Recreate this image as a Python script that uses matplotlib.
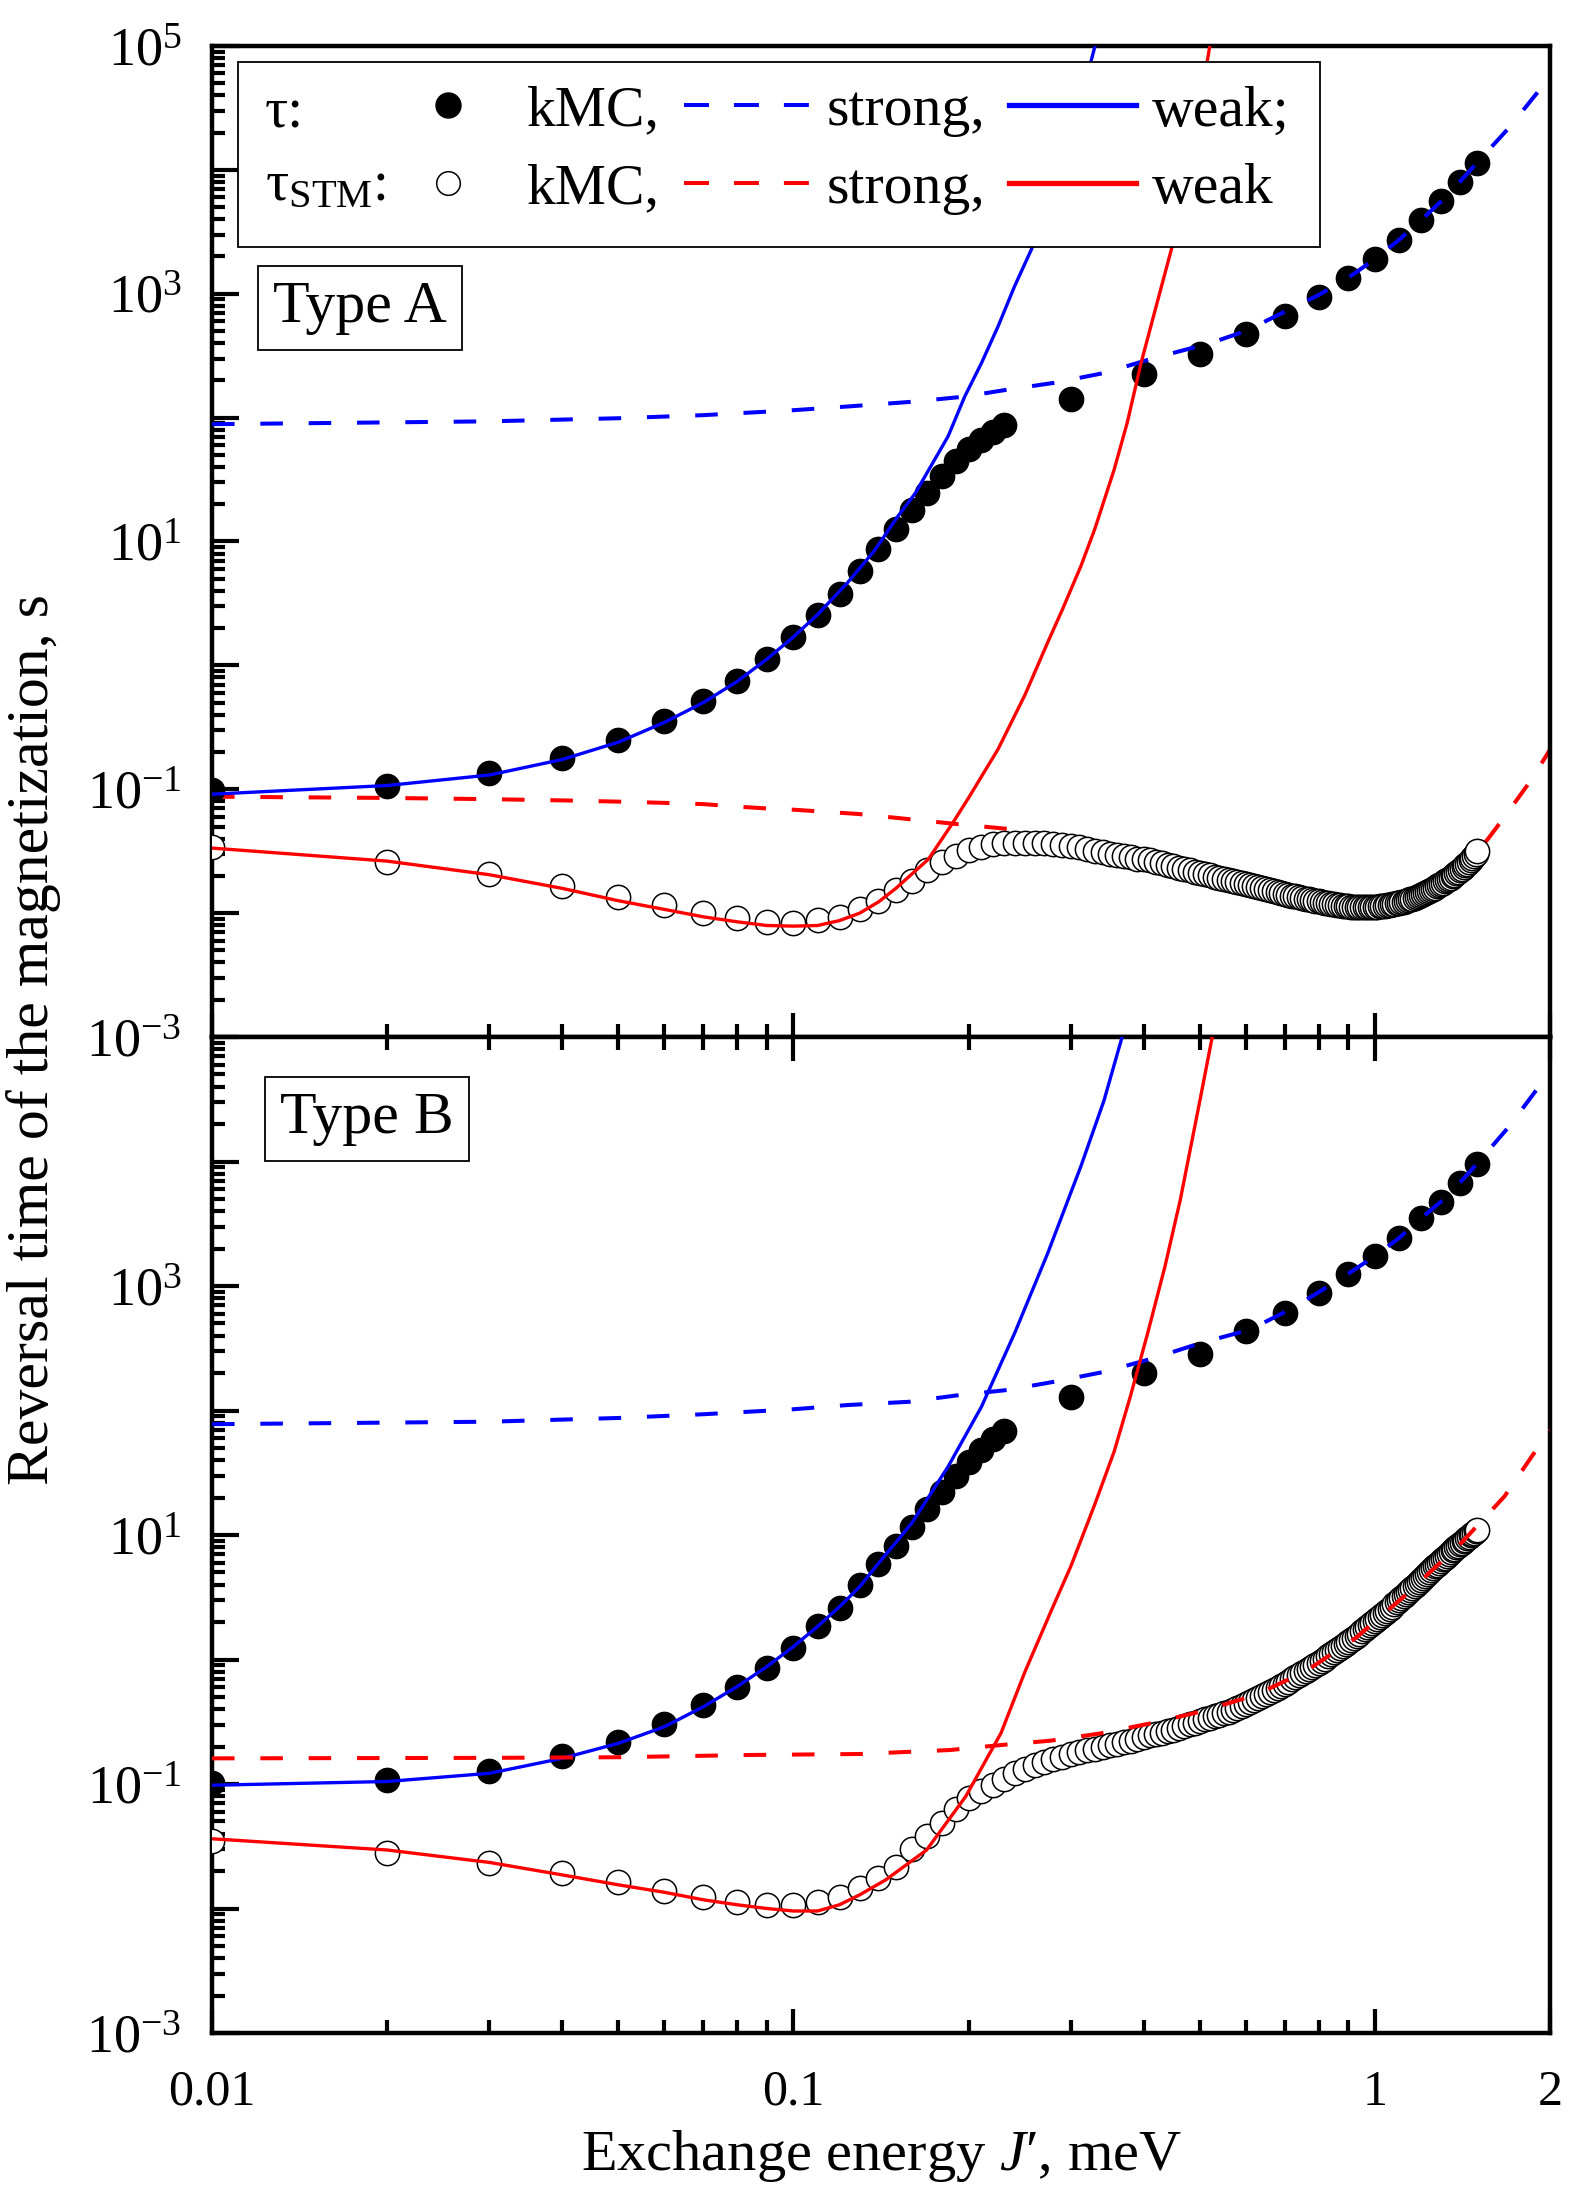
import numpy as np
import matplotlib
matplotlib.use("Agg")
import matplotlib.pyplot as plt
from matplotlib.lines import Line2D
from matplotlib.patches import Rectangle
from matplotlib.ticker import FixedLocator, FuncFormatter, LogLocator, NullFormatter

plt.rcParams['font.family'] = ['Liberation Serif', 'DejaVu Serif']
plt.rcParams['mathtext.fontset'] = 'custom'
plt.rcParams['mathtext.rm'] = 'Liberation Serif'
plt.rcParams['mathtext.it'] = 'Liberation Serif:italic'
plt.rcParams['mathtext.default'] = 'regular'

BLUE = '#0000ff'
RED = '#ff0000'

# ---- data (log10 of the reversal time) ----
# kMC tau (filled dots), same J grid for both panels
j_dots = [0.01, 0.02, 0.03, 0.04, 0.05, 0.06, 0.07, 0.08, 0.09, 0.10, 0.11, 0.12,
          0.13, 0.14, 0.15, 0.16, 0.17, 0.18, 0.19, 0.20, 0.21, 0.22, 0.23,
          0.3, 0.4, 0.5, 0.6, 0.7, 0.8, 0.9, 1.0, 1.1, 1.2, 1.3, 1.4, 1.5]
dots_a = [-1.01, -0.97, -0.87, -0.745, -0.605, -0.449, -0.288, -0.125, 0.052, 0.232,
          0.408, 0.578, 0.759, 0.94, 1.099, 1.257, 1.393, 1.528, 1.647, 1.743, 1.82,
          1.882, 1.938, 2.15, 2.35, 2.516, 2.675, 2.82, 2.977, 3.124, 3.277, 3.435,
          3.594, 3.747, 3.905, 4.052]
dots_b = [-0.99, -0.965, -0.892, -0.777, -0.665, -0.518, -0.366, -0.222, -0.069, 0.094,
          0.272, 0.413, 0.596, 0.765, 0.91, 1.062, 1.209, 1.348, 1.474, 1.584, 1.683,
          1.769, 1.838, 2.106, 2.30, 2.454, 2.641, 2.78, 2.945, 3.098, 3.238, 3.384,
          3.543, 3.677, 3.83, 3.98]

# kMC tau_STM (open circles), J = 0.01 ... 1.50 in steps of 0.01
j_circ = np.arange(1, 151) / 100.0
circ_a = [-1.47, -1.586, -1.685, -1.78, -1.866, -1.935, -1.995, -2.04, -2.07, -2.08,
          -2.055, -2.03, -1.97, -1.90, -1.815, -1.74, -1.655, -1.59, -1.54, -1.49,
          -1.465, -1.445, -1.435, -1.43, -1.43, -1.43, -1.435, -1.44, -1.45, -1.46,
          -1.47, -1.48, -1.495, -1.51, -1.52, -1.53, -1.54, -1.55, -1.56, -1.567,
          -1.575, -1.585, -1.597, -1.608, -1.62, -1.633, -1.644, -1.655, -1.665, -1.675,
          -1.685, -1.696, -1.705, -1.713, -1.722, -1.73, -1.738, -1.747, -1.756, -1.765,
          -1.774, -1.783, -1.792, -1.80, -1.808, -1.815, -1.822, -1.83, -1.837, -1.844,
          -1.851, -1.858, -1.864, -1.87, -1.876, -1.882, -1.888, -1.894, -1.90, -1.905,
          -1.91, -1.915, -1.92, -1.924, -1.928, -1.932, -1.936, -1.94, -1.943, -1.946,
          -1.948, -1.95, -1.951, -1.952, -1.953, -1.953, -1.952, -1.951, -1.95, -1.948,
          -1.947, -1.945, -1.943, -1.94, -1.937, -1.934, -1.93, -1.926, -1.922, -1.918,
          -1.913, -1.908, -1.902, -1.896, -1.89, -1.884, -1.877, -1.87, -1.862, -1.855,
          -1.847, -1.839, -1.83, -1.822, -1.813, -1.804, -1.795, -1.785, -1.775, -1.765,
          -1.755, -1.744, -1.733, -1.722, -1.715, -1.704, -1.692, -1.68, -1.668, -1.655,
          -1.642, -1.628, -1.614, -1.60, -1.585, -1.57, -1.554, -1.537, -1.52, -1.502]
circ_b = [-1.46, -1.552, -1.637, -1.712, -1.79, -1.857, -1.905, -1.945, -1.972, -1.972,
          -1.945, -1.905, -1.838, -1.757, -1.664, -1.52, -1.42, -1.31, -1.20, -1.11,
          -1.06, -1.01, -0.96, -0.915, -0.88, -0.85, -0.825, -0.80, -0.78, -0.76,
          -0.745, -0.73, -0.715, -0.70, -0.69, -0.675, -0.665, -0.655, -0.64, -0.625,
          -0.61, -0.60, -0.59, -0.575, -0.565, -0.55, -0.535, -0.52, -0.51, -0.495,
          -0.48, -0.47, -0.455, -0.443, -0.43, -0.42, -0.405, -0.39, -0.37, -0.355,
          -0.34, -0.323, -0.308, -0.29, -0.275, -0.26, -0.243, -0.227, -0.21, -0.195,
          -0.178, -0.16, -0.143, -0.126, -0.11, -0.093, -0.077, -0.06, -0.043, -0.026,
          -0.009, 0.008, 0.025, 0.041, 0.058, 0.075, 0.092, 0.109, 0.125, 0.142,
          0.159, 0.175, 0.192, 0.208, 0.225, 0.241, 0.258, 0.274, 0.29, 0.307,
          0.324, 0.34, 0.357, 0.374, 0.391, 0.408, 0.425, 0.443, 0.46, 0.477,
          0.494, 0.511, 0.528, 0.545, 0.561, 0.577, 0.593, 0.609, 0.625, 0.641,
          0.657, 0.673, 0.689, 0.705, 0.72, 0.735, 0.749, 0.763, 0.777, 0.791,
          0.805, 0.819, 0.833, 0.847, 0.862, 0.876, 0.89, 0.903, 0.915, 0.927,
          0.939, 0.951, 0.963, 0.975, 0.986, 0.997, 1.008, 1.018, 1.029, 1.04]

# tau, strong coupling (blue dashed)
j_bs_a = [0.01, 0.03, 0.05, 0.07, 0.1, 0.124, 0.162, 0.197, 0.2335, 0.28, 0.342, 0.416,
          0.52, 0.6, 0.71, 0.8, 0.9, 1.0, 1.1, 1.2, 1.3, 1.4, 1.5, 1.7, 2.0]
bs_a = [1.947, 1.97, 1.995, 2.02, 2.06, 2.09, 2.13, 2.17, 2.226, 2.28, 2.36, 2.48,
        2.60, 2.70, 2.87, 2.99, 3.13, 3.28, 3.435, 3.594, 3.747, 3.905, 4.06, 4.34, 4.75]
j_bs_b = [0.01, 0.03, 0.05, 0.07, 0.1, 0.124, 0.158, 0.19, 0.2335, 0.28, 0.342, 0.416,
          0.50, 0.61, 0.72, 0.8, 0.9, 1.0, 1.1, 1.2, 1.3, 1.4, 1.5, 1.7, 2.0]
bs_b = [1.89, 1.91, 1.94, 1.97, 2.01, 2.044, 2.07, 2.12, 2.165, 2.23, 2.31, 2.42,
        2.54, 2.65, 2.82, 2.95, 3.10, 3.24, 3.385, 3.543, 3.68, 3.83, 3.985, 4.28, 4.72]

# tau, weak coupling (blue solid)
j_bw_a = [0.01, 0.02, 0.03, 0.04, 0.05, 0.06, 0.07, 0.08, 0.09, 0.10, 0.11, 0.124,
          0.138, 0.151, 0.162, 0.1845, 0.197, 0.2105, 0.2248, 0.24, 0.2564, 0.275, 0.30,
          0.33, 0.345]
bw_a = [-1.04, -0.97, -0.885, -0.76, -0.62, -0.46, -0.30, -0.13, 0.05, 0.23, 0.41, 0.67,
        0.93, 1.20, 1.39, 1.85, 2.17, 2.44, 2.736, 3.06, 3.355, 3.72, 4.25, 5.0, 5.3]
j_bw_b = [0.01, 0.02, 0.03, 0.04, 0.05, 0.06, 0.07, 0.08, 0.09, 0.10, 0.11, 0.12, 0.13,
          0.14, 0.15, 0.16, 0.1845, 0.2105, 0.24, 0.2735, 0.312, 0.342, 0.37]
bw_b = [-1.01, -0.98, -0.914, -0.794, -0.673, -0.54, -0.379, -0.218, -0.057, 0.104,
        0.265, 0.424, 0.585, 0.773, 0.94, 1.10, 1.55, 2.03, 2.62, 3.26, 3.96, 4.49, 5.05]

# tau_STM, strong coupling (red dashed)
j_rs_a = [0.01, 0.02, 0.03, 0.04, 0.05, 0.06, 0.07, 0.08, 0.09, 0.1, 0.1295, 0.157, 0.19,
          0.2335, 0.26, 0.30, 0.35, 0.4, 0.5, 0.6, 0.7, 0.8, 0.9, 1.0, 1.1, 1.2, 1.3,
          1.4, 1.5, 1.565, 1.66, 1.86, 2.0]
rs_a = [-1.06, -1.07, -1.08, -1.09, -1.10, -1.11, -1.12, -1.14, -1.155, -1.165, -1.20,
        -1.24, -1.28, -1.32, -1.37, -1.43, -1.50, -1.56, -1.67, -1.76, -1.84, -1.905,
        -1.945, -1.948, -1.918, -1.855, -1.765, -1.655, -1.50, -1.40, -1.24, -0.92, -0.68]
j_rs_b = [0.01, 0.03, 0.05, 0.0838, 0.13, 0.186, 0.2275, 0.2767, 0.338, 0.414, 0.5, 0.619,
          0.757, 0.925, 1.131, 1.41, 1.67, 1.86, 2.0]
rs_b = [-0.794, -0.79, -0.785, -0.767, -0.759, -0.727, -0.687, -0.652, -0.593, -0.51,
        -0.42, -0.29, -0.10, 0.17, 0.52, 0.94, 1.31, 1.63, 1.84]

# tau_STM, weak coupling (red solid)
j_rw_a = [0.01, 0.02, 0.03, 0.04, 0.05, 0.06, 0.07, 0.08, 0.09, 0.10, 0.11, 0.12, 0.13,
          0.14, 0.15, 0.1706, 0.188, 0.20, 0.2248, 0.25, 0.2735, 0.29, 0.312, 0.33, 0.356,
          0.375, 0.396, 0.42, 0.449, 0.485, 0.52]
rw_a = [-1.475, -1.58, -1.69, -1.80, -1.90, -1.97, -2.03, -2.07, -2.10, -2.105, -2.10,
        -2.06, -2.00, -1.91, -1.80, -1.565, -1.27, -1.07, -0.677, -0.24, 0.183, 0.45,
        0.80, 1.105, 1.58, 1.96, 2.44, 2.89, 3.40, 4.17, 5.0]
j_rw_b = [0.01, 0.02, 0.03, 0.04, 0.05, 0.06, 0.07, 0.08, 0.09, 0.10, 0.11, 0.12, 0.13,
          0.1441, 0.1694, 0.1978, 0.2275, 0.25, 0.278, 0.30, 0.33, 0.356, 0.38, 0.4065,
          0.435, 0.4625, 0.50, 0.53]
rw_b = [-1.44, -1.53, -1.63, -1.73, -1.81, -1.87, -1.93, -1.97, -2.00, -2.02, -2.02,
        -1.97, -1.89, -1.77, -1.53, -1.10, -0.59, -0.10, 0.40, 0.75, 1.25, 1.67, 2.12,
        2.62, 3.15, 3.69, 4.49, 5.1]

x_major = [0.01, 0.1, 1, 2]
x_major_labels = ['0.01', '0.1', '1', '2']
x_minor = [0.02, 0.03, 0.04, 0.05, 0.06, 0.07, 0.08, 0.09,
           0.2, 0.3, 0.4, 0.5, 0.6, 0.7, 0.8, 0.9]


def tau(v):
    return np.power(10.0, np.asarray(v, dtype=float))


W, H = 1573, 2191
fig = plt.figure(figsize=(W / 100, H / 100), dpi=100)
left, right = 212 / W, 1550 / W
ax_a = fig.add_axes([left, 1 - 1037 / H, right - left, 991 / H])
ax_b = fig.add_axes([left, 1 - 2033 / H, right - left, 996 / H])

MS = 17.5
dash = (5.6, 6.4)


def draw_panel(ax, dots, circ, js, s_strong, jw, s_weak, jrs, r_strong, jrw, r_weak,
               red_dash_on_top):
    ax.plot(j_dots, tau(dots), 'o', ms=MS, mfc='black', mec='black', zorder=3)
    ax.plot(j_circ, tau(circ), 'o', ms=MS, mfc='white', mec='black', mew=1.1, zorder=3)
    ax.plot(js, tau(s_strong), color=BLUE, lw=2.9, dashes=dash, zorder=4)
    ax.plot(jw, tau(s_weak), color=BLUE, lw=2.4, zorder=4)
    ax.plot(jrs, tau(r_strong), color=RED, lw=2.9, dashes=dash,
            zorder=4 if red_dash_on_top else 2.5)
    ax.plot(jrw, tau(r_weak), color=RED, lw=2.4, zorder=4)


draw_panel(ax_a, dots_a, circ_a, j_bs_a, bs_a, j_bw_a, bw_a, j_rs_a, rs_a, j_rw_a, rw_a, False)
draw_panel(ax_b, dots_b, circ_b, j_bs_b, bs_b, j_bw_b, bw_b, j_rs_b, rs_b, j_rw_b, rw_b, True)


def ylab_a(v, pos):
    e = int(round(np.log10(v)))
    return r'$10^{%d}$' % e if e % 2 else ''


def ylab_b(v, pos):
    e = int(round(np.log10(v)))
    return r'$10^{%d}$' % e if (e % 2 and e < 5) else ''


for ax, fmt in ((ax_a, ylab_a), (ax_b, ylab_b)):
    ax.set_xscale('log')
    ax.set_yscale('log')
    ax.set_xlim(0.01, 2)
    ax.set_ylim(1e-3, 1e5)
    ax.yaxis.set_major_locator(LogLocator(base=10, numticks=20))
    ax.yaxis.set_minor_locator(LogLocator(base=10, subs=np.arange(2, 10), numticks=20))
    ax.yaxis.set_major_formatter(FuncFormatter(fmt))
    ax.yaxis.set_minor_formatter(NullFormatter())
    ax.xaxis.set_major_locator(FixedLocator(x_major))
    ax.xaxis.set_minor_locator(FixedLocator(x_minor))
    ax.xaxis.set_minor_formatter(NullFormatter())
    ax.tick_params(which='both', direction='in', width=3, right=False, top=False,
                   colors='black')
    ax.tick_params(axis='y', which='major', length=19.5, pad=22, labelsize=39)
    ax.tick_params(axis='y', which='minor', length=9.5)
    ax.tick_params(axis='x', which='major', length=17)
    ax.tick_params(axis='x', which='minor', length=9.5)
    for sp in ax.spines.values():
        sp.set_linewidth(3.2)

ax_a.tick_params(axis='x', which='both', bottom=True, labelbottom=False)
ax_b.tick_params(axis='x', which='both', top=True, bottom=True, labeltop=False)
ax_b.set_xticklabels(x_major_labels)
ax_b.tick_params(axis='x', which='major', pad=26, labelsize=36)

# panel tags
box = dict(boxstyle='square,pad=0.25', fc='white', ec='black', lw=1.3)
ax_a.text(0.0456, 0.7214, 'Type A', transform=ax_a.transAxes, fontsize=43,
          ha='left', va='baseline', bbox=box, zorder=6)
ax_b.text(0.0508, 0.9036, 'Type B', transform=ax_b.transAxes, fontsize=43,
          ha='left', va='baseline', bbox=box, zorder=6)

# legend: white frame, row labels, then the six keys in three columns
ax_a.add_patch(Rectangle((0.0194, 0.797), 0.8087, 0.187, transform=ax_a.transAxes,
                         fc='white', ec='black', lw=1.3, zorder=5))
ax_a.text(0.0396, 0.9173, 'τ:', transform=ax_a.transAxes, fontsize=41.5,
          ha='left', va='baseline', zorder=6)
ax_a.text(0.0396, 0.8446, r'τ$_{STM}$:', transform=ax_a.transAxes, fontsize=41.5,
          ha='left', va='baseline', zorder=6)

handles = [
    Line2D([], [], ls='none', marker='o', ms=18, mfc='black', mec='black'),
    Line2D([], [], ls='none', marker='o', ms=17, mfc='white', mec='black', mew=1.1),
    Line2D([], [], color=BLUE, lw=2.9, dashes=(6.2, 6.2)),
    Line2D([], [], color=RED, lw=2.9, dashes=(6.2, 6.2)),
    Line2D([], [], color=BLUE, lw=3.8),
    Line2D([], [], color=RED, lw=3.8),
]
labels = ['kMC,', 'kMC,', 'strong,', 'strong,', 'weak;', 'weak']
leg = ax_a.legend(handles, labels, ncol=3, loc='upper left',
                  bbox_to_anchor=(0.129, 0.9607), frameon=False, fontsize=41.5,
                  handlelength=2.2, handletextpad=0.27, columnspacing=0.42,
                  labelspacing=0.44, borderpad=0, borderaxespad=0, numpoints=1)
leg.set_zorder(7)

fig.text(34 / W, 1 - 1040 / H, 'Reversal time of the magnetization, s', rotation=90,
         ha='center', va='center', fontsize=43)
fig.text(881 / W, 1 - 2170 / H, r'Exchange energy $\mathit{J}$′, meV', ha='center',
         va='baseline', fontsize=42)

fig.savefig('out.png', dpi=100)
